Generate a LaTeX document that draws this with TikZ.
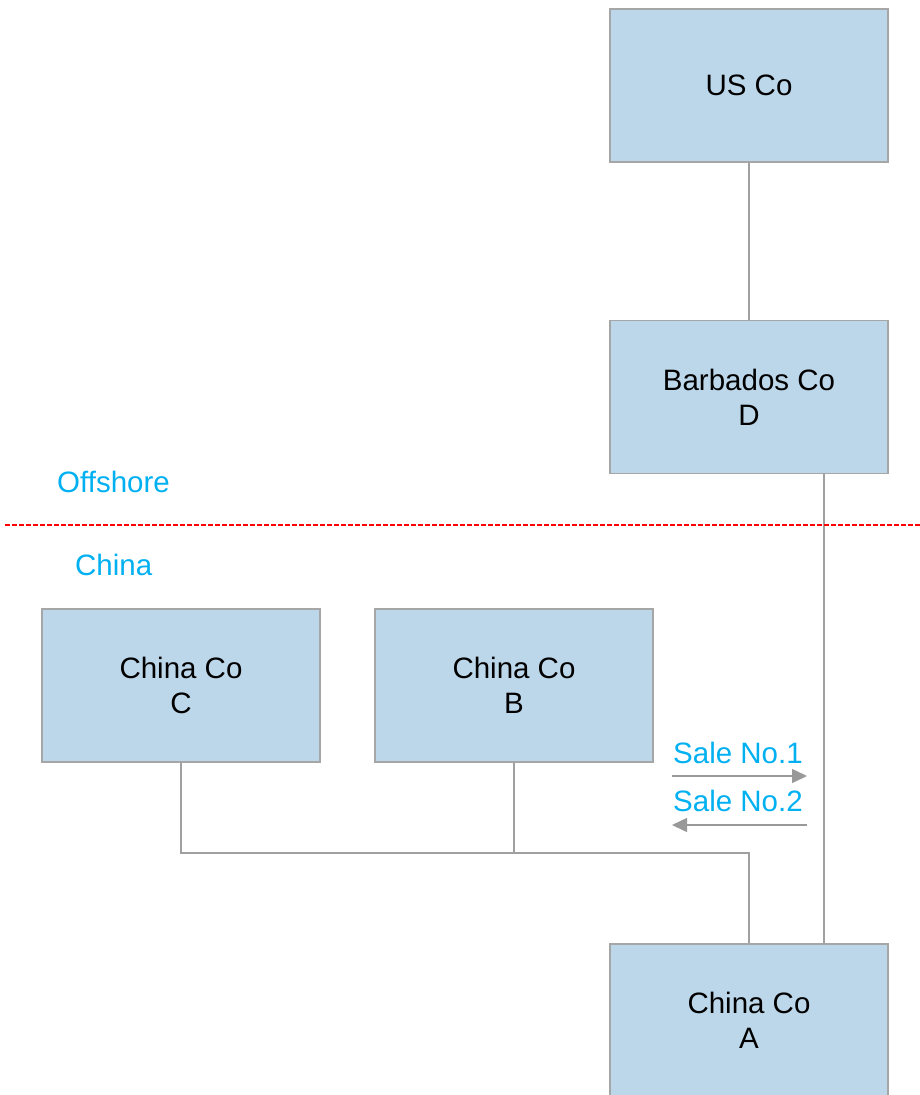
\documentclass[tikz,border=0pt]{standalone}
\usepackage{fontspec}
\setmainfont{Liberation Sans}
\usetikzlibrary{arrows.meta}
\definecolor{boxfill}{HTML}{BDD7EA}
\definecolor{boxline}{HTML}{A6A6A6}
\definecolor{conn}{HTML}{A0A0A0}
\definecolor{lblue}{HTML}{00B0F0}
\definecolor{arrowgray}{HTML}{999999}
\definecolor{dashred}{HTML}{FF0000}
\begin{document}
\begin{tikzpicture}[x=1pt,y=-1pt,
  entity/.style={draw=boxline,line width=1.3pt,fill=boxfill,minimum width=278pt,minimum height=153pt,
    inner sep=0pt,align=center,font=\fontsize{29.5}{35}\selectfont,text=black},
  link/.style={draw=conn,line width=1.3pt},
  region/.style={text=lblue,font=\fontsize{29.5}{35}\selectfont,anchor=west,inner sep=0pt},
  sale/.style={draw=arrowgray,line width=1.5pt,-{Triangle[length=15pt,width=14pt]}}]
\useasboundingbox (0,0) rectangle (920,1095);
\clip (0,0) rectangle (920,1095);
\node[entity] (us) at (749,85.5) {\raisebox{-3pt}{US Co}};
\node[entity] (bb) at (749,397) {Barbados Co\\D};
\node[entity] (cc) at (181,685.5) {China Co\\C};
\node[entity] (cb) at (514,685.5) {China Co\\B};
\node[entity] (ca) at (749,1020.5) {China Co\\A};
\coordinate (bbb) at (824,473);
\coordinate (bat) at (824,944);
\coordinate (jc) at (181,853);
\coordinate (jb) at (514,853);
\coordinate (ja) at (749,853);
\draw[link] (us.south) -- (bb.north);
\draw[link] (bbb) -- (bat);
\draw[link] (cc.south) -- (jc) -- (ja) -- (ca.north);
\draw[link] (cb.south) -- (jb);
\coordinate (dl) at (5,525);
\coordinate (dr) at (920,525);
\draw[draw=dashred,line width=1.2pt,dash pattern=on 4.5pt off 2.5pt] (dl) -- (dr);
\node[region] (off) at (57,482) {Offshore};
\node[region] (chn) at (75,565) {China};
\node[region] (s1) at (673,753) {Sale No.1};
\node[region] (s2) at (673,801) {Sale No.2};
\coordinate (a1l) at (672,776);
\coordinate (a1r) at (807,776);
\coordinate (a2l) at (672,825);
\coordinate (a2r) at (807,825);
\draw[sale] (a1l) -- (a1r);
\draw[sale] (a2r) -- (a2l);
\end{tikzpicture}
\end{document}
